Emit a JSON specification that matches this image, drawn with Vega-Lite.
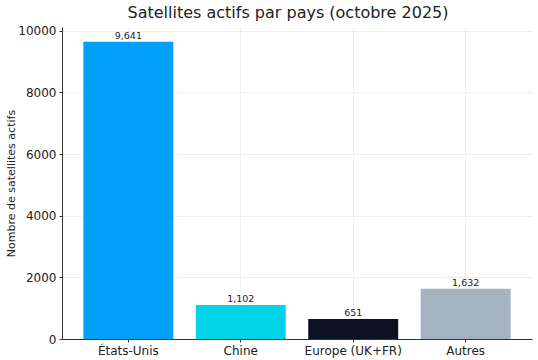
{
  "$schema": "https://vega.github.io/schema/vega-lite/v6.json",
  "autosize": {"type": "none"},
  "width": 470,
  "height": 312,
  "padding": {"left": 62, "top": 27, "right": 6, "bottom": 21},
  "background": "white",
  "config": {
    "font": "DejaVu Sans",
    "view": {"stroke": null},
    "axis": {"domainColor": "#333333", "tickColor": "#333333", "labelColor": "#222222", "titleColor": "#222222", "gridColor": "#ebebeb", "gridWidth": 0.8, "labelFont": "DejaVu Sans", "titleFont": "DejaVu Sans", "titleFontWeight": "normal"}
  },
  "title": {"text": "Satellites actifs par pays (octobre 2025)", "fontSize": 16, "fontWeight": "normal", "font": "DejaVu Sans", "color": "#222222", "anchor": "middle", "offset": 4, "dx": -9},
  "data": {"values": [
    {"pays": "États-Unis", "n": 9641, "label": "9,641"},
    {"pays": "Chine", "n": 1102, "label": "1,102"},
    {"pays": "Europe (UK+FR)", "n": 651, "label": "651"},
    {"pays": "Autres", "n": 1632, "label": "1,632"}
  ]},
  "encoding": {
    "x": {"field": "pays", "type": "nominal", "sort": null,
      "scale": {"paddingInner": 0.2, "paddingOuter": 0.19},
      "axis": {"title": null, "labelAngle": 0, "labelFontSize": 12, "grid": true, "tickSize": 3, "labelPadding": 3, "domainWidth": 1}},
    "y": {"field": "n", "type": "quantitative",
      "scale": {"domain": [0, 10123], "nice": false},
      "axis": {"title": "Nombre de satellites actifs", "titleFontSize": 11, "labelFontSize": 12, "values": [0, 2000, 4000, 6000, 8000, 10000], "format": "d", "tickSize": 3, "labelPadding": 3, "titlePadding": 1, "grid": true}}
  },
  "layer": [
    {"mark": {"type": "bar"},
     "encoding": {"color": {"field": "pays", "type": "nominal", "legend": null,
       "scale": {"domain": ["États-Unis", "Chine", "Europe (UK+FR)", "Autres"], "range": ["#03a0fa", "#03d3e6", "#0b1121", "#a4b2c2"]}}}},
    {"mark": {"type": "text", "dy": -6, "fontSize": 9.5, "color": "#222222", "font": "DejaVu Sans"},
     "encoding": {"text": {"field": "label"}}}
  ]
}
